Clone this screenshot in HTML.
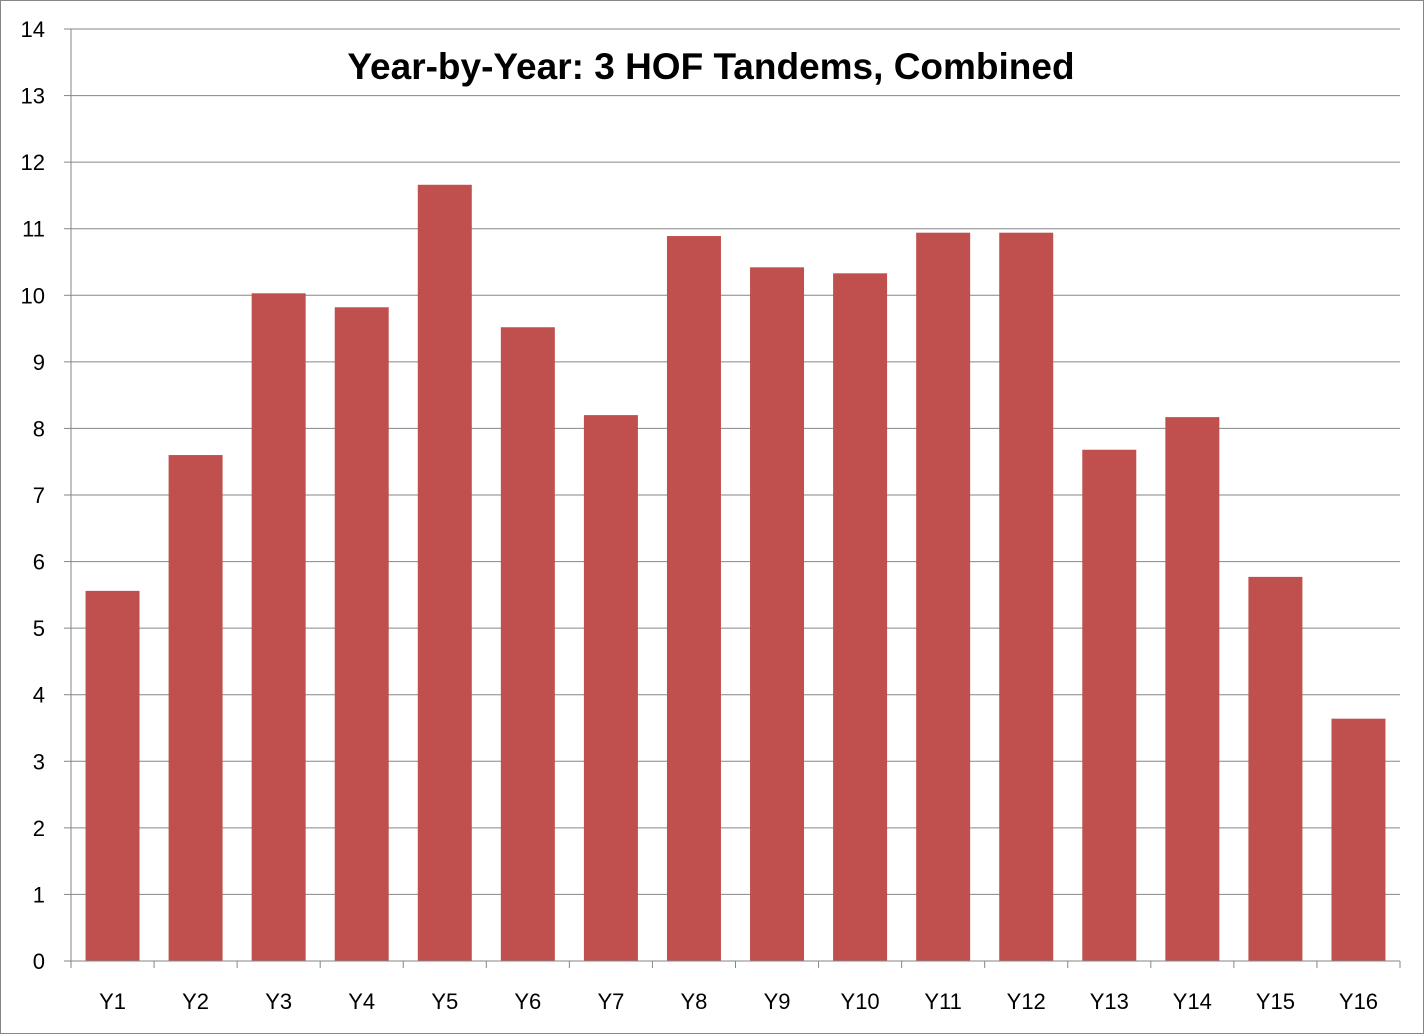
<!DOCTYPE html>
<html><head><meta charset="utf-8"><style>
html,body{margin:0;padding:0;background:#fff;}
svg{display:block;font-family:"Liberation Sans",sans-serif;}
</style></head><body>
<svg id="chart" width="1424" height="1034" viewBox="0 0 1424 1034">
<rect x="0.5" y="0.5" width="1423" height="1033" fill="#fff" stroke="#868686"/>
<g id="grid"></g><g id="bars"></g><g id="axes"></g>
<text x="711" y="79" text-anchor="middle" font-size="37" font-weight="bold" fill="#000">Year-by-Year: 3 HOF Tandems, Combined</text>
</svg>
<script>
const categories=["Y1","Y2","Y3","Y4","Y5","Y6","Y7","Y8","Y9","Y10","Y11","Y12","Y13","Y14","Y15","Y16"];
const values=[5.56,7.6,10.03,9.82,11.66,9.52,8.2,10.89,10.42,10.33,10.94,10.94,7.68,8.17,5.77,3.64];
const yTicks=[0,1,2,3,4,5,6,7,8,9,10,11,12,13,14];
const NS="http://www.w3.org/2000/svg";
const L=71,R=1400,T=29,B=961,YMAX=14;
const y=v=>B-(v/YMAX)*(B-T);
const bw=(R-L)/categories.length;
const x=i=>L+i*bw;
function mk(t,a,p){const e=document.createElementNS(NS,t);for(const k in a)e.setAttribute(k,a[k]);p.appendChild(e);return e;}
const grid=document.getElementById('grid'),bars=document.getElementById('bars'),axes=document.getElementById('axes');
yTicks.forEach(v=>{
 if(v>0){const g=mk('line',{x1:L,x2:R,y1:y(v),y2:y(v),stroke:'#868686','stroke-width':1},grid);
 }
 const tk=mk('line',{x1:L-7,x2:L,y1:y(v),y2:y(v),stroke:'#868686'},axes);
 
 const t=mk('text',{x:L-26,y:y(v)+8,'text-anchor':'end','font-size':22,fill:'#000'},axes);
 t.textContent=v;
 
});
values.forEach((v,i)=>{
 const w=bw*0.65;
 const r=mk('rect',{x:x(i)+(bw-w)/2,y:y(v),width:w,height:B-y(v),fill:'#c0504d'},bars);
 
});
for(let i=0;i<=categories.length;i++){
 const tk=mk('line',{x1:x(i),x2:x(i),y1:B,y2:B+7,stroke:'#868686'},axes);
 
}
categories.forEach((c,i)=>{
 const t=mk('text',{x:x(i)+bw/2,y:1009,'text-anchor':'middle','font-size':22,fill:'#000'},axes);
 t.textContent=c;
 
});
const ya=mk('line',{x1:L,x2:L,y1:T,y2:B,stroke:'#868686'},axes);

const xa=mk('line',{x1:L,x2:R,y1:B,y2:B,stroke:'#868686'},axes);

</script>
</body></html>
